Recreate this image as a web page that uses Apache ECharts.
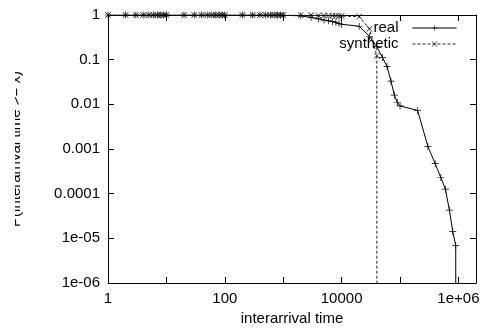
<!DOCTYPE html>
<html>
<head>
<meta charset="utf-8">
<script src="https://cdn.jsdelivr.net/npm/echarts@6/dist/echarts.min.js"></script>
<style>
  html, body { margin: 0; padding: 0; background: #fff; }
  #chart { width: 496px; height: 328px; }
</style>
</head>
<body>
<div id="chart"></div>
<script>
// interarrival time samples (x) and P(interarrival time >= x)
const realX = [
  1, 2, 3, 4, 5, 6, 7, 8, 9,
  10, 20, 30, 40, 50, 60, 70, 80, 90,
  100, 200, 300, 400, 500, 600, 700, 800, 900,
  1000, 2000, 3000, 4000, 5000, 6000, 7000, 8000, 9000,
  10000, 20000, 30000, 40000, 50000, 60000, 70000, 80000, 90000,
  100000, 200000, 300000, 400000, 500000, 600000, 700000, 800000, 900000,
  1000000
];
const realY = [
  1, 1, 1, 1, 1, 1, 1, 1, 1,
  1, 1, 1, 1, 1, 1, 1, 1, 1,
  1, 1, 1, 1, 0.998, 0.996, 0.994, 0.992, 0.99,
  0.985, 0.96, 0.88, 0.82, 0.77, 0.74, 0.71, 0.68, 0.65,
  0.62, 0.56, 0.33, 0.195, 0.112, 0.07, 0.033, 0.016, 0.011,
  0.0092, 0.0073, 0.00114, 0.00047, 0.00023, 0.000126, 0.000043, 0.0000142, 0.0000069,
  1e-300
];
const synthX = [
  1, 2, 3, 4, 5, 6, 7, 8, 9,
  10, 20, 30, 40, 50, 60, 70, 80, 90,
  100, 200, 300, 400, 500, 600, 700, 800, 900,
  1000, 2000, 3000, 4000, 5000, 6000, 7000, 8000, 9000,
  10000, 20000, 30000, 40000, 50000
];
const synthY = [
  1, 1, 1, 1, 1, 1, 1, 1, 1,
  1, 1, 1, 1, 1, 1, 1, 1, 1,
  1, 1, 1, 1, 1, 1, 1, 1, 1,
  0.998, 0.99, 0.985, 0.98, 0.975, 0.97, 0.965, 0.96, 0.955,
  0.95, 0.92, 0.49, 0.123, 1e-300
];
const xTickLabels = { 0: '1', 2: '100', 4: '10000', 6: '1e+06' };
const yTickLabels = { 0: '1', '-1': '0.1', '-2': '0.01', '-3': '0.001', '-4': '0.0001', '-5': '1e-05', '-6': '1e-06' };

const plusSym = 'path://M0,4.5h10v1h-10zM4.5,0h1v10h-1z';
const crossSym = 'path://M0,0.7L0.7,0L10,9.3L9.3,10ZM9.3,0L10,0.7L0.7,10L0,9.3Z';
const font = 'Liberation Sans, Arial, sans-serif';

const toData = (xs, ys) => xs.map((x, i) =>
  ys[i] < 1e-100 ? { value: [x, ys[i]], symbol: 'none' } : [x, ys[i]]);

const expLabel = (table) => (v) => {
  const e = Math.log10(v);
  const r = Math.round(e);
  if (Math.abs(e - r) > 0.01) return '';
  return table[r] ?? '';
};

const tickStyle = { show: true, inside: true, length: 6, lineStyle: { color: '#000', width: 1 } };
const lineStyle = { show: true, lineStyle: { color: '#000', width: 1 } };

// one legend per entry so the labels end at the same x, like gnuplot's key
const legendFor = (name, top) => ({
  orient: 'vertical',
  right: 39,
  top: top,
  align: 'right',
  padding: 0,
  itemWidth: 44,
  itemHeight: 7,
  lineStyle: { width: 1 },
  textStyle: { fontSize: 15, color: '#000', fontFamily: font, lineHeight: 16, padding: [0, 9, 0, 0] },
  data: [name]
});

const chart = echarts.init(document.getElementById('chart'));
chart.setOption({
  animation: false,
  textStyle: { fontFamily: font },
  grid: { left: 108, right: 20, top: 15, bottom: 45, containLabel: false, outerBoundsMode: 'none' },
  legend: [legendFor('real', 20), legendFor('synthetic', 36)],
  graphic: [{
    type: 'rect', left: 0, top: 0, z: 100,
    shape: { width: 15, height: 328 },
    style: { fill: '#fff' }
  }],
  xAxis: [{
    type: 'log', logBase: 10, min: 1, max: 2000000, splitNumber: 6,
    position: 'bottom',
    name: 'interarrival time', nameLocation: 'middle', nameGap: 22,
    nameTextStyle: { fontSize: 15, color: '#000', fontFamily: font },
    axisLine: lineStyle, axisTick: tickStyle,
    axisLabel: { fontSize: 15, color: '#000', margin: 8, formatter: expLabel(xTickLabels), fontFamily: font },
    splitLine: { show: false }
  }, {
    type: 'log', logBase: 10, min: 1, max: 2000000, splitNumber: 6,
    position: 'top',
    axisLine: lineStyle, axisTick: tickStyle,
    axisLabel: { show: false }, splitLine: { show: false }
  }],
  yAxis: [{
    type: 'log', logBase: 10, min: 1e-6, max: 1, splitNumber: 6,
    position: 'left',
    name: 'P(interarrival time >= x)', nameLocation: 'middle', nameGap: 85, nameRotate: 90,
    nameTextStyle: { fontSize: 15, color: '#000', fontFamily: font },
    axisLine: lineStyle, axisTick: tickStyle,
    axisLabel: { fontSize: 15, color: '#000', margin: 8, formatter: expLabel(yTickLabels), fontFamily: font },
    splitLine: { show: false }
  }, {
    type: 'log', logBase: 10, min: 1e-6, max: 1, splitNumber: 6,
    position: 'right',
    axisLine: lineStyle, axisTick: tickStyle,
    axisLabel: { show: false }, splitLine: { show: false }
  }],
  series: [{
    name: 'real',
    type: 'line',
    data: toData(realX, realY),
    symbol: plusSym,
    symbolSize: 7,
    showAllSymbol: true,
    clip: true,
    lineStyle: { color: '#000', width: 1 },
    itemStyle: { color: '#000' }
  }, {
    name: 'synthetic',
    type: 'line',
    data: toData(synthX, synthY),
    symbol: crossSym,
    symbolSize: 6,
    showAllSymbol: true,
    clip: true,
    lineStyle: { color: '#222', width: 1, type: [3, 2] },
    itemStyle: { color: '#000' }
  }]
});
</script>
</body>
</html>
